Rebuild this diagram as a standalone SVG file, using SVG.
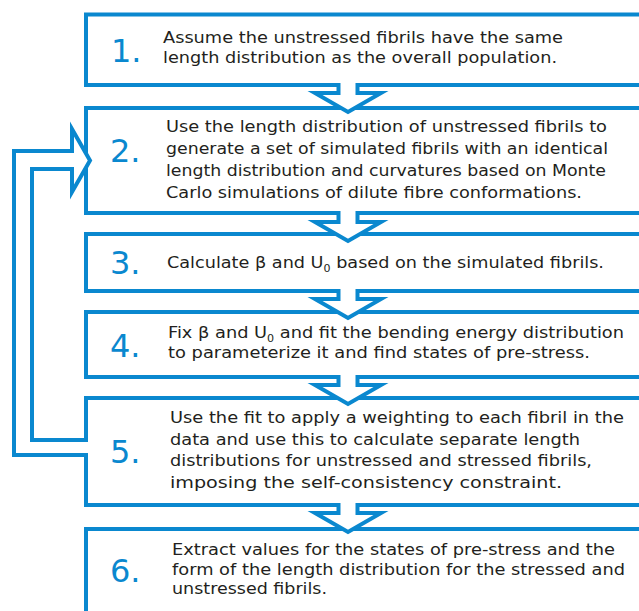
<svg xmlns="http://www.w3.org/2000/svg" width="639" height="611" viewBox="0 0 639 611">
<style>
.box{fill:#fff;stroke:#0a88cf;stroke-width:4}
.arr{fill:#fff;stroke:#0a88cf;stroke-width:4;stroke-linejoin:miter}
.num{font-family:"DejaVu Sans",Verdana,sans-serif;font-size:32px;fill:#0a88cf}
.t{font-family:"DejaVu Sans",Verdana,sans-serif;font-size:16px;fill:#231f20}
.sub{font-size:10px}
</style>
<rect width="639" height="611" fill="#fff"/>
<g id="step1">
<rect class="box" x="86" y="14.5" width="600" height="70.5"/>
<text class="num" x="111" y="62">1.</text>
<text class="t" x="163" y="43" textLength="400" lengthAdjust="spacingAndGlyphs">Assume the unstressed fibrils have the same</text>
<text class="t" x="163" y="63" textLength="394" lengthAdjust="spacingAndGlyphs">length distribution as the overall population.</text>
</g>
<g id="step2">
<rect class="box" x="86" y="108" width="600" height="105"/>
<text class="num" x="110" y="162">2.</text>
<text class="t" x="166" y="132" textLength="441" lengthAdjust="spacingAndGlyphs">Use the length distribution of unstressed fibrils to</text>
<text class="t" x="166" y="154" textLength="442" lengthAdjust="spacingAndGlyphs">generate a set of simulated fibrils with an identical</text>
<text class="t" x="166" y="176" textLength="440" lengthAdjust="spacingAndGlyphs">length distribution and curvatures based on Monte</text>
<text class="t" x="166" y="198" textLength="416" lengthAdjust="spacingAndGlyphs">Carlo simulations of dilute fibre conformations.</text>
</g>
<g id="step3">
<rect class="box" x="86" y="234" width="600" height="57"/>
<text class="num" x="110" y="274">3.</text>
<text class="t" x="167" y="268" textLength="437" lengthAdjust="spacingAndGlyphs">Calculate β and U<tspan class="sub" dy="4">0</tspan><tspan dy="-4"> based on the simulated fibrils.</tspan></text>
</g>
<g id="step4">
<rect class="box" x="86" y="312" width="600" height="65"/>
<text class="num" x="110" y="357">4.</text>
<text class="t" x="168" y="338" textLength="456" lengthAdjust="spacingAndGlyphs">Fix β and U<tspan class="sub" dy="4">0</tspan><tspan dy="-4"> and fit the bending energy distribution</tspan></text>
<text class="t" x="168" y="358" textLength="422" lengthAdjust="spacingAndGlyphs">to parameterize it and find states of pre-stress.</text>
</g>
<g id="step5">
<rect class="box" x="86" y="398" width="600" height="107"/>
<text class="num" x="110" y="463">5.</text>
<text class="t" x="170" y="423" textLength="454" lengthAdjust="spacingAndGlyphs">Use the fit to apply a weighting to each fibril in the</text>
<text class="t" x="170" y="445" textLength="410" lengthAdjust="spacingAndGlyphs">data and use this to calculate separate length</text>
<text class="t" x="170" y="466" textLength="422" lengthAdjust="spacingAndGlyphs">distributions for unstressed and stressed fibrils,</text>
<text class="t" x="170" y="488" textLength="392" lengthAdjust="spacingAndGlyphs">imposing the self-consistency constraint.</text>
</g>
<g id="step6">
<rect class="box" x="86" y="529" width="600" height="120"/>
<text class="num" x="110" y="582">6.</text>
<text class="t" x="172" y="555" textLength="443" lengthAdjust="spacingAndGlyphs">Extract values for the states of pre-stress and the</text>
<text class="t" x="172" y="575" textLength="453" lengthAdjust="spacingAndGlyphs">form of the length distribution for the stressed and</text>
<text class="t" x="172" y="594" textLength="155" lengthAdjust="spacingAndGlyphs">unstressed fibrils.</text>
</g>
<g id="connectors">
<path class="arr" d="M338.5,83 V93 H315 L348,112 L381,93 H357.5 V83"/>
<path class="arr" d="M338.5,211 V222 H315 L348,241 L381,222 H357.5 V211"/>
<path class="arr" d="M338.5,289 V299 H315 L348,318 L381,299 H357.5 V289"/>
<path class="arr" d="M338.5,375 V385 H315 L348,404 L381,385 H357.5 V375"/>
<path class="arr" d="M338.5,503 V513 H315 L348,532 L381,513 H357.5 V503"/>
<path class="arr" d="M88,455 H14 V151 H72 V129 L90,160.5 L72,192 V169 H32 V440 H88"/>
</g>
</svg>
